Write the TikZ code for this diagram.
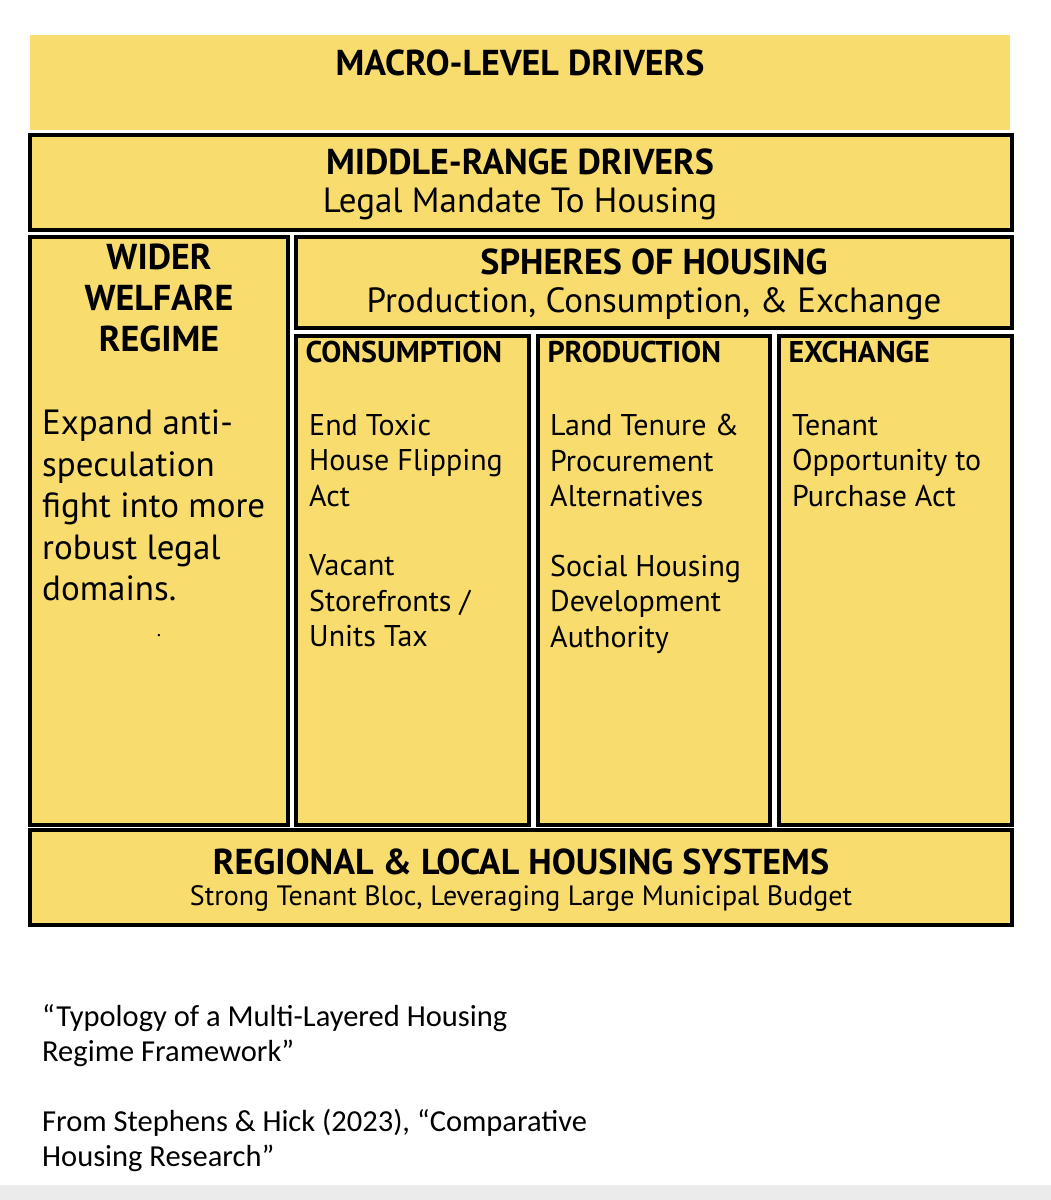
\documentclass[tikz,border=0pt]{standalone}
\usepackage{fontspec}
\setmainfont{PT Sans}
\newfontfamily\capfont{Carlito}
\definecolor{yel}{HTML}{F8DC6E}
\begin{document}
\begin{tikzpicture}[x=1pt,y=-1pt,
  box/.style={draw=black,line width=4pt,fill=yel},
  hd/.style={font=\bfseries\fontsize{36}{40}\selectfont},
  sub/.style={font=\fontsize{35}{40}\selectfont},
  colhd/.style={anchor=north west,font=\bfseries\fontsize{30}{34}\selectfont},
  coltx/.style={anchor=north west,align=left,font=\fontsize{30}{35.5}\selectfont,inner sep=0pt},
  captxt/.style={anchor=north west,align=left,font=\capfont\fontsize{30.5}{35}\selectfont,inner sep=0pt}]
\useasboundingbox (0,0) rectangle (1051,1200);
\fill[white] (0,0) rectangle (1051,1200);
\fill[black!8] (0,1185) rectangle (1051,1200);
\fill[yel] (30,35) rectangle (1010,130);
\node[hd] (macro) at (520,63) {MACRO-LEVEL DRIVERS};
\draw[box] (30,135) rectangle (1012,230);
\node[hd] (mid) at (520,162) {MIDDLE-RANGE DRIVERS};
\node[sub] (midsub) at (520,204) {Legal Mandate To Housing};
\draw[box] (30,237) rectangle (288,825);
\node[hd,align=center,font=\bfseries\fontsize{36}{41}\selectfont,anchor=north] (wid) at (159,240) {WIDER\\WELFARE\\REGIME};
\node[coltx,font=\fontsize{35}{41.5}\selectfont] (widtx) at (42,410) {Expand anti-\\speculation\\fight into more\\robust legal\\domains.};
\node[font=\fontsize{20}{20}\selectfont] (dot) at (159,636) {.};
\draw[box] (296,237) rectangle (1012,328);
\node[hd] (sph) at (654,262) {SPHERES OF HOUSING};
\node[sub] (sphsub) at (654,304) {Production, Consumption, \& Exchange};
\draw[box] (296,336) rectangle (529,825);
\draw[box] (538,336) rectangle (770,825);
\draw[box] (779,336) rectangle (1012,825);
\node[colhd] (c1) at (302,338) {CONSUMPTION};
\node[colhd] (c2) at (544,338) {PRODUCTION};
\node[colhd] (c3) at (785,338) {EXCHANGE};
\node[coltx] (t1) at (309,414) {End Toxic\\House Flipping\\Act\\[34pt]Vacant\\Storefronts /\\Units Tax};
\node[coltx] (t2) at (550,414) {Land Tenure \&\\Procurement\\Alternatives\\[34pt]Social Housing\\Development\\Authority};
\node[coltx] (t3) at (792,414) {Tenant\\Opportunity to\\Purchase Act};
\draw[box] (30,830) rectangle (1012,925);
\node[hd] (reg) at (521,862) {REGIONAL \& LOCAL HOUSING SYSTEMS};
\node[font=\fontsize{28}{30}\selectfont] (regsub) at (521,898) {Strong Tenant Bloc, Leveraging Large Municipal Budget};
\node[captxt] (cap1) at (42,1004) {“Typology of a Multi-Layered Housing\\Regime Framework”};
\node[captxt] (cap2) at (42,1109) {From Stephens \& Hick (2023), “Comparative\\Housing Research”};
\end{tikzpicture}
\end{document}
